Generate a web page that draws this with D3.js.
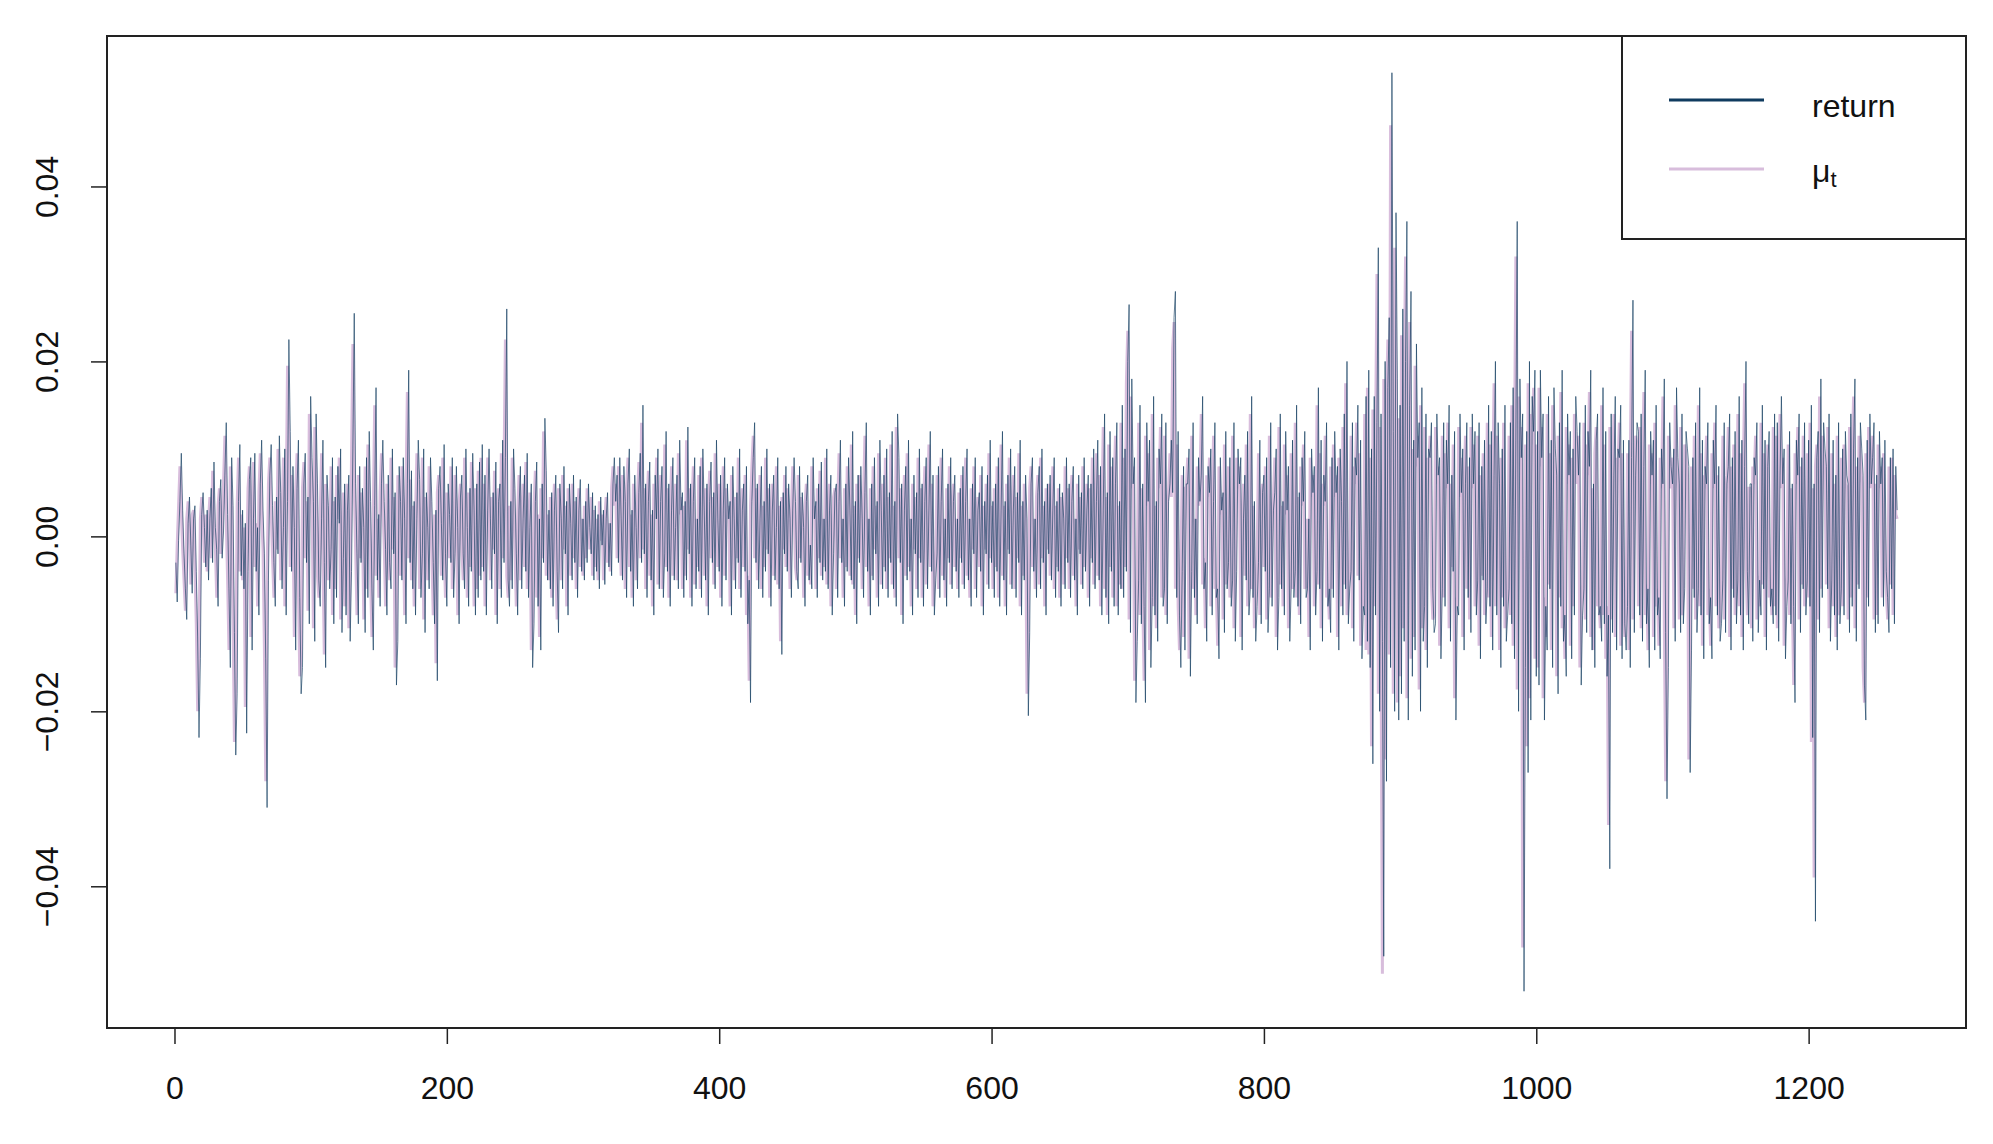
<!DOCTYPE html>
<html>
<head>
<meta charset="utf-8">
<script src="https://cdn.jsdelivr.net/npm/d3@7"></script>
<style>
  html, body { margin: 0; padding: 0; background: #fff; }
  svg text { font-family: "Liberation Sans", Arial, sans-serif; fill: #111; }
</style>
</head>
<body>
<svg id="chart"></svg>
<script>
// daily values, in units of 1e-4
const returnVals = [
  -30,-75,-5,40,95,30,-20,-60,-95,15,45,-10,-65,20,35,-40,-115,-230,-140,25,50,10,-35,30,-50,
  20,55,-30,85,10,-15,-80,40,65,-25,5,70,130,25,-60,-150,90,35,-110,-250,-180,40,105,-45,30,
  -60,15,-225,-40,65,90,-130,20,95,-40,10,-90,60,110,30,-20,-140,-310,-50,70,105,35,-30,-80,45,
  -20,115,50,-60,10,100,-90,40,225,120,-40,80,10,-130,55,110,-70,-180,-150,60,95,-30,45,-100,160,
  90,40,-120,140,60,-50,-80,20,110,-30,-150,70,35,-60,-15,90,-100,45,-70,80,15,100,-110,-25,60,
  -90,30,70,-120,-40,100,255,60,-20,-100,80,-30,55,10,-110,90,-70,120,40,-60,-130,35,170,-50,25,
  -80,60,110,40,-15,-90,70,-30,-60,100,-20,50,-170,-120,80,40,-50,90,20,-100,60,190,-30,75,-60,
  40,-90,20,110,65,-70,-20,100,-110,50,10,-60,90,40,-30,-100,30,-165,55,80,15,-50,105,-20,-80,
  60,25,-30,90,-70,-20,80,10,-100,45,70,-20,-60,100,10,-80,55,-40,95,30,-90,60,-70,85,-50,
  105,-40,70,-90,30,100,20,-60,50,-20,85,-100,40,60,-70,110,-30,90,260,-50,-80,40,-60,100,55,
  -20,-90,30,80,-60,20,70,-40,95,-70,10,60,-150,-100,40,85,-80,20,-130,60,-30,135,75,-50,30,
  -60,50,-80,30,70,-40,-110,60,20,-60,80,-20,40,-90,60,15,-50,70,-30,45,-70,30,65,-40,20,
  -50,40,-30,60,10,-20,50,-50,35,-40,25,-60,45,-10,30,-55,20,50,-35,15,-45,60,90,40,70,
  -30,90,20,-50,80,40,-70,60,100,-40,30,-80,70,10,-60,50,95,-30,150,-20,60,-70,40,85,-50,
  30,-90,70,20,100,-60,40,80,-70,-20,120,-40,60,-80,30,90,-50,10,70,-60,110,30,50,-70,40,
  -50,125,-20,60,-80,40,90,-60,20,-40,80,-70,100,30,-50,60,-90,40,85,-30,50,-60,110,20,-40,
  70,-80,30,90,-50,60,20,40,-90,80,20,-60,50,-30,100,-70,30,60,-40,80,-100,-50,-190,40,90,
  130,-30,60,-60,20,80,-70,40,-40,100,-20,60,-80,30,70,-50,10,90,-60,40,-135,50,-20,80,-40,
  60,20,-70,30,90,40,-40,-60,80,-30,50,10,-80,40,70,-50,-10,-60,90,20,40,-70,60,-30,85,
  -50,20,-40,100,-60,30,70,-90,-20,50,60,-70,40,110,-30,20,-80,60,-40,90,30,-50,120,-60,40,
  -100,70,-30,80,20,-70,50,130,-40,20,-90,60,-50,90,-20,40,-80,110,30,-60,70,-40,100,-70,50,
  -30,120,-60,40,-80,140,90,-30,60,-100,30,80,-50,110,-40,20,-90,70,-20,50,-70,100,-30,60,-80,
  40,90,-60,30,120,-40,70,-90,-50,-20,80,-70,40,100,-50,20,-80,60,-30,90,-60,40,70,-40,20,
  -70,55,-30,80,-60,40,100,-50,20,-80,60,-20,90,-70,30,50,-40,80,-90,40,-20,70,-60,110,-30,
  40,-70,60,-40,90,-80,30,120,-50,40,-90,70,-20,100,-60,30,80,-70,50,-30,110,-90,40,-50,70,
  20,-205,-110,60,90,-40,20,-70,50,80,-60,100,-30,40,-90,60,-20,70,-50,30,90,-70,40,-40,60,
  -80,50,20,-60,90,-30,60,-70,40,80,-50,20,-90,70,-20,50,-60,90,-40,30,70,-80,60,-30,100,
  -60,40,110,-50,80,-90,30,140,-70,50,-100,120,-40,90,-80,60,130,-90,40,-60,150,-70,100,-40,200,
  265,-110,180,60,90,-190,-120,-50,150,-100,60,-80,-190,130,40,110,-150,-70,160,-90,40,-120,100,60,140,
  -80,-60,130,-100,40,60,110,50,250,280,-70,120,-90,-150,-40,80,-130,60,60,100,-160,-40,130,-70,20,
  -100,90,40,70,160,-60,-30,-120,80,50,100,-90,40,130,-70,-60,-140,90,30,50,-110,120,-60,-30,90,
  -80,-50,130,-120,-40,100,60,90,-130,20,70,-50,120,-90,-60,160,-70,40,-120,-80,-30,110,-100,50,70,
  -40,90,-110,-60,130,-80,30,50,100,-130,-70,140,-60,40,-90,120,30,80,-120,-60,110,-70,-40,150,-80,
  50,-100,90,40,120,-70,-60,20,-130,100,50,80,-90,-40,170,-60,110,-120,70,40,130,-80,-60,-110,90,
  -70,120,50,80,-130,100,40,-90,140,-60,200,-100,-60,-40,130,-120,90,70,150,-50,110,-140,-80,-90,160,
  -120,190,-150,100,-260,160,-90,130,330,-200,140,-120,-480,200,-280,170,250,-150,530,120,-200,370,180,-210,150,
  -180,260,-120,200,360,-210,150,280,-160,110,-130,220,90,130,-200,170,-120,-80,140,-150,100,90,130,-60,-110,
  -100,140,70,90,-140,-60,130,-80,110,60,150,-120,70,-40,120,-210,-80,-90,140,50,100,-130,60,130,-70,
  90,-110,140,60,120,-90,-50,130,-140,80,-50,110,-100,-60,150,-80,120,-130,70,200,-90,130,60,-150,100,
  -80,150,-120,-90,-60,130,-100,170,-140,110,360,-200,180,90,140,-520,-150,120,-270,200,-210,160,120,190,-160,
  120,-170,190,90,140,-210,-80,-130,160,-60,110,-150,170,100,70,-180,130,-80,190,-120,-90,-160,140,70,120,
  -140,100,-90,160,120,70,130,-170,-90,-60,150,-110,120,80,190,-130,60,-150,110,140,-90,-80,-120,170,-100,
  120,-160,-90,-380,140,-110,70,160,-130,100,90,150,-140,110,-100,-130,-80,110,-150,90,270,-110,70,130,120,
  -90,140,-120,80,190,-100,-60,-150,120,70,110,-130,150,-90,-70,-140,100,60,180,-110,-300,-150,130,80,60,
  100,-120,170,90,60,-110,140,-100,-60,120,100,80,-270,-130,90,-70,130,-110,-60,170,-90,110,-140,80,60,
  130,-100,-70,-140,110,60,150,-90,80,-120,-100,-50,130,-110,60,80,140,-130,90,-70,120,-100,-50,160,-90,
  110,-130,80,200,-40,-100,60,60,-120,90,70,130,-110,-50,-90,150,-60,110,-130,80,120,-80,-60,-100,140,
  -90,130,-120,70,160,60,100,-140,-80,-50,120,-100,60,-80,-190,110,70,140,-110,90,-60,130,-90,-50,110,
  -80,150,-230,60,-440,90,120,-110,180,-70,130,100,80,-60,140,-120,-50,110,-90,70,-130,130,-100,-60,100,
  -90,120,70,60,-110,140,-80,100,180,-120,90,-60,130,100,70,-170,-210,110,-80,140,60,90,130,-110,70,
  -100,120,60,90,-80,110,-40,-70,-110,90,-60,100,-100,80,30
];

const muVals = [
  -65,-10,35,80,30,-15,-50,-85,20,40,-5,-55,25,30,-35,-100,-200,-130,20,45,15,-30,25,-40,20,
  45,-25,75,15,-10,-70,35,55,-20,10,60,115,20,-50,-130,80,30,-95,-235,-160,35,90,-40,25,-50,
  10,-195,-35,55,80,-115,25,85,-35,15,-80,50,95,25,-15,-125,-280,-45,60,90,30,-25,-70,40,-15,
  100,45,-50,15,90,-80,35,195,110,-35,70,15,-115,50,95,-60,-160,-135,55,85,-25,40,-85,140,80,
  35,-105,125,55,-45,-70,25,95,-25,-135,60,30,-50,-10,80,-90,40,-60,70,20,90,-95,-20,50,-80,
  25,60,-105,-35,90,220,55,-15,-90,70,-25,50,15,-95,80,-60,105,35,-50,-115,30,150,-45,20,-70,
  50,95,35,-10,-80,60,-25,-50,90,-15,45,-150,-105,70,35,-45,80,15,-90,55,165,-25,65,-50,35,
  -80,25,95,60,-60,-15,90,-95,45,15,-50,80,35,-25,-90,25,-145,50,70,20,-45,90,-15,-70,50,
  20,-25,80,-60,-15,70,15,-90,40,60,-15,-50,90,15,-70,50,-35,85,25,-80,55,-60,75,-45,90,
  -35,60,-80,25,90,25,-50,45,-15,75,-90,35,55,-60,95,-25,80,225,-45,-70,35,-50,90,50,-15,
  -80,25,70,-50,25,60,-35,85,-60,15,50,-130,-90,35,75,-70,25,-115,55,-25,120,65,-45,25,-50,
  45,-70,25,60,-35,-95,55,25,-50,70,-15,35,-80,55,20,-45,60,-25,40,-60,25,55,-35,20,-45,
  35,-25,55,15,-15,45,-45,30,-35,20,-50,40,-5,25,-50,20,45,-30,15,-40,55,80,35,60,-25,
  80,20,-45,70,35,-60,55,90,-35,25,-70,60,15,-50,45,85,-25,130,-15,55,-60,35,75,-45,25,
  -80,60,20,90,-55,35,70,-60,-15,105,-35,55,-70,25,80,-45,15,60,-50,95,25,45,-60,35,-45,
  110,-15,55,-70,35,80,-55,20,-35,70,-60,90,25,-45,55,-80,35,75,-25,45,-55,95,20,-35,60,
  -70,25,80,-45,55,20,35,-80,70,20,-50,45,-25,90,-60,25,55,-35,70,-90,-45,-165,35,80,115,
  -25,55,-50,20,70,-60,35,-35,90,-15,55,-70,25,60,-45,15,80,-55,35,-120,45,-15,70,-35,55,
  20,-60,25,80,35,-35,-50,70,-25,45,15,-70,35,60,-45,-10,-55,80,20,35,-60,55,-25,75,-45,
  20,-35,90,-55,25,60,-80,-15,45,55,-60,35,95,-25,20,-70,55,-35,80,25,-45,105,-55,35,-90,
  60,-25,70,20,-60,45,115,-35,20,-80,55,-45,80,-15,35,-70,95,25,-55,60,-35,90,-60,45,-25,
  105,-55,35,-70,125,80,-25,55,-90,25,70,-45,95,-35,20,-80,60,-15,45,-60,90,-25,55,-70,35,
  80,-55,25,105,-35,60,-80,-45,-15,70,-60,35,90,-45,20,-70,55,-25,80,-55,35,60,-35,20,-60,
  50,-25,70,-55,35,90,-45,20,-70,55,-15,80,-60,25,45,-35,70,-80,35,-15,60,-55,95,-25,35,
  -60,55,-35,80,-70,25,105,-45,35,-80,60,-15,90,-55,25,70,-60,45,-25,95,-80,35,-45,60,20,
  -180,-100,55,80,-35,20,-60,45,70,-55,90,-25,35,-80,55,-15,60,-45,25,80,-60,35,-35,55,-70,
  45,20,-55,80,-25,55,-60,35,70,-45,20,-80,60,-15,45,-55,80,-35,25,60,-70,55,-25,90,-55,
  35,95,-45,70,-80,25,125,-60,45,-90,105,-35,80,-70,55,115,-80,35,-55,130,-60,90,-35,175,235,
  -95,160,55,80,-165,-105,-45,130,-90,55,-70,-165,115,35,95,-130,-60,140,-80,35,-105,90,55,125,-70,
  -55,115,-90,35,55,95,45,215,245,-60,105,-80,-130,-35,70,-115,55,55,90,-140,-35,115,-60,20,-90,
  80,35,60,140,-55,-25,-105,70,45,90,-80,35,115,-60,-55,-125,80,25,45,-95,105,-55,-25,80,-70,
  -45,115,-105,-35,90,55,80,-115,20,60,-45,105,-80,-55,140,-60,35,-105,-70,-25,95,-90,45,60,-35,
  80,-95,-55,115,-70,25,45,90,-115,-60,125,-55,35,-80,105,25,70,-105,-55,95,-60,-35,130,-70,45,
  -90,80,35,105,-60,-55,20,-115,90,45,70,-80,-35,150,-55,95,-105,60,35,115,-70,-55,-95,80,-60,
  105,45,70,-115,90,35,-80,125,-55,175,-90,-55,-35,115,-105,80,60,130,-45,95,-125,-70,-80,140,-130,
  170,-135,90,-240,145,-80,115,300,-180,125,-130,-500,180,-255,155,225,-135,470,110,-180,330,160,-190,135,-160,
  230,-105,175,320,-185,135,245,-140,100,-115,195,80,115,-175,150,-105,-70,125,-130,90,80,115,-55,-95,-90,
  125,60,80,-125,-55,115,-70,95,55,130,-105,60,-35,105,-185,-70,-80,125,45,90,-115,55,115,-60,80,
  -95,125,55,105,-80,-45,115,-125,70,-45,95,-90,-55,130,-70,105,-115,60,175,-80,115,55,-130,90,-70,
  130,-105,-80,-55,115,-90,150,-125,95,320,-175,160,80,125,-470,-135,105,-240,175,-185,140,105,170,-140,105,
  -150,170,80,125,-185,-70,-115,140,-55,95,-130,150,90,60,-160,115,-70,165,-105,-80,-140,125,60,105,-125,
  90,-80,140,105,60,115,-150,-80,-55,130,-95,105,70,165,-115,55,-130,95,125,-80,-70,-105,150,-90,105,
  -140,-80,-330,125,-95,60,140,-115,90,80,130,-125,95,-90,-115,-70,95,-130,80,235,-95,60,115,105,-80,
  125,-105,70,165,-90,-55,-130,105,60,95,-115,130,-80,-60,-125,90,55,160,-95,-280,-135,115,70,55,90,
  -105,150,80,55,-95,125,-90,-55,105,90,70,-255,-115,80,-60,115,-95,-55,150,-80,95,-125,70,55,115,
  -90,-60,-125,95,55,130,-80,70,-105,-90,-45,115,-95,55,70,125,-115,80,-60,105,-90,-45,140,-80,95,
  -115,70,175,-35,-90,55,55,-105,80,60,115,-95,-45,-80,130,-55,95,-115,70,105,-70,-55,-90,125,-80,
  115,-105,60,140,55,90,-125,-70,-45,105,-90,55,-70,-170,95,60,125,-95,80,-55,115,-80,-45,95,-70,
  130,-235,55,-390,80,105,-95,160,-60,115,90,70,-55,125,-105,-45,95,-80,60,-115,115,-90,-55,90,-80,
  105,60,55,-95,125,-70,90,160,-105,80,-55,115,90,60,-150,-190,95,-70,125,55,80,115,-95,60,-90,
  105,55,80,-70,95,-35,-60,-95,80,-55,90,-90,70,25,20
];

const xTicks = [0, 200, 400, 600, 800, 1000, 1200];
const yTicks = [-0.04, -0.02, 0.00, 0.02, 0.04];
const seriesNames = ['return', 'mu'];
const seriesColors = ['#0f3b5f', '#d8bddc'];

const width = 1993;
const height = 1144;
const margin = {left: 107, right: 27, top: 36, bottom: 116};
const unit = 1e-4;

const svg = d3.select('#chart')
              .attr('width', width)
              .attr('height', height);

const ret = returnVals.map(v => v * unit);
const mu = muVals.map(v => v * unit);
const n = Math.max(ret.length, mu.length);

// R style 4% axis padding
const xPad = (n - 1) * 0.04;
const x = d3.scaleLinear()
            .domain([1 - xPad, n + xPad])
            .range([margin.left, width - margin.right]);

const yMin = d3.min(ret.concat(mu));
const yMax = d3.max(ret.concat(mu));
const yPad = (yMax - yMin) * 0.04;
const y = d3.scaleLinear()
            .domain([yMin - yPad, yMax + yPad])
            .range([height - margin.bottom, margin.top]);

const line = d3.line()
               .x((d, i) => x(i + 1))
               .y(d => y(d));

// mu_t underneath (wider), return on top (thin)
svg.append('path')
   .datum(mu)
   .attr('d', line)
   .attr('fill', 'none')
   .attr('stroke', seriesColors[1])
   .attr('stroke-width', 3);

svg.append('path')
   .datum(ret)
   .attr('d', line)
   .attr('fill', 'none')
   .attr('stroke', seriesColors[0])
   .attr('stroke-width', 0.65);

// axes
const xAxis = d3.axisBottom(x)
                .tickValues(xTicks)
                .tickFormat(d3.format('d'))
                .tickSize(16)
                .tickPadding(32);

const yAxis = d3.axisLeft(y)
                .tickValues(yTicks)
                .tickFormat(d3.format('.2f'))
                .tickSize(16);

const gx = svg.append('g')
              .attr('transform', `translate(0, ${height - margin.bottom})`)
              .call(xAxis);
gx.select('.domain').remove();
gx.selectAll('line').attr('stroke', '#222').attr('stroke-width', 1.5);
gx.selectAll('text')
  .attr('font-size', 32)
  .attr('font-family', '"Liberation Sans", Arial, sans-serif')
  .attr('fill', '#111');

const gy = svg.append('g')
              .attr('transform', `translate(${margin.left}, 0)`)
              .call(yAxis);
gy.select('.domain').remove();
gy.selectAll('line').attr('stroke', '#222').attr('stroke-width', 1.5);
gy.selectAll('text')
  .attr('font-size', 32)
  .attr('font-family', '"Liberation Sans", Arial, sans-serif')
  .attr('fill', '#111')
  .attr('text-anchor', 'middle')
  .attr('x', 0)
  .attr('y', 0)
  .attr('dy', null)
  .attr('dominant-baseline', 'central')
  .attr('transform', `translate(${47 - margin.left}, 0) rotate(-90)`);

// plot frame
svg.append('rect')
   .attr('x', margin.left)
   .attr('y', margin.top)
   .attr('width', width - margin.left - margin.right)
   .attr('height', height - margin.top - margin.bottom)
   .attr('fill', 'none')
   .attr('stroke', '#222')
   .attr('stroke-width', 2);

// legend
const legendBox = {x: 1622, y: margin.top, w: width - margin.right - 1622, h: 203};
const legend = svg.append('g');
legend.append('rect')
      .attr('x', legendBox.x)
      .attr('y', legendBox.y)
      .attr('width', legendBox.w)
      .attr('height', legendBox.h)
      .attr('fill', '#fff')
      .attr('stroke', '#222')
      .attr('stroke-width', 2);

const legendRows = [100, 169];
seriesNames.forEach((name, i) => {
  legend.append('line')
        .attr('x1', 1669)
        .attr('x2', 1764)
        .attr('y1', legendRows[i])
        .attr('y2', legendRows[i])
        .attr('stroke', seriesColors[i])
        .attr('stroke-width', 3);
});

legend.append('text')
      .attr('x', 1812)
      .attr('y', legendRows[0] + 6)
      .attr('dominant-baseline', 'central')
      .attr('font-size', 32)
      .text('return');

const muLabel = legend.append('text')
      .attr('x', 1812)
      .attr('y', legendRows[1] + 2)
      .attr('dominant-baseline', 'central')
      .attr('font-size', 32);
muLabel.append('tspan').text('μ');
muLabel.append('tspan')
       .attr('font-size', 22)
       .attr('dy', 8)
       .text('t');
</script>
</body>
</html>
